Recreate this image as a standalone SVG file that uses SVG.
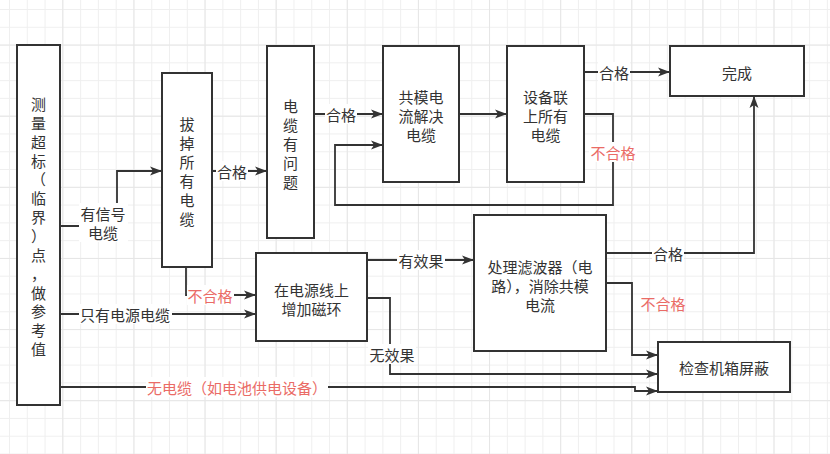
<svg xmlns="http://www.w3.org/2000/svg" width="830" height="454" viewBox="0 0 830 454">
<defs>
<pattern id="gmin" x="9" y="9" width="17.78" height="17.78" patternUnits="userSpaceOnUse">
<path d="M0,0.5 H17.78 M0.5,0 V17.78" stroke="#efefef" stroke-width="1" fill="none"/>
</pattern>
<pattern id="gmaj" x="62.3" y="44.6" width="71.12" height="71.12" patternUnits="userSpaceOnUse">
<path d="M0,0.5 H71.12 M0.5,0 V71.12" stroke="#e6e6e6" stroke-width="1" fill="none"/>
</pattern>
<marker id="arr" markerUnits="userSpaceOnUse" markerWidth="12" markerHeight="10" refX="12" refY="5" orient="auto">
<path d="M0,0.5 L12,5 L0,9.5 L3,5 Z" fill="#333"/>
</marker>
</defs>
<style>
.box{fill:#fff;stroke:#333;stroke-width:2}
.t{font-family:"Noto Sans CJK SC","Noto Sans",sans-serif;font-size:15px;fill:#333;text-anchor:middle;dominant-baseline:central}
.red{fill:#ea6b66}
.e{fill:none;stroke:#333;stroke-width:1.8;marker-end:url(#arr)}
.lb{fill:#fff}
</style>
<rect width="830" height="454" fill="#fff"/>
<rect width="830" height="454" fill="url(#gmin)"/>
<rect width="830" height="454" fill="url(#gmaj)"/>

<g id="connectors">
<path class="e" d="M60,226 H117 V171 H162"/>
<path class="e" d="M212,171 H267"/>
<path class="e" d="M186,267 V295 H256"/>
<path class="e" d="M60,314 H256"/>
<path class="e" d="M60,387 H635 V391 H658"/>
<path class="e" d="M314,114 H383"/>
<path class="e" d="M459,114 H507"/>
<path class="e" d="M584,72 H670"/>
<path class="e" d="M584,114 H613 V205 H335 V145 H383"/>
<path class="e" d="M367,260 H474"/>
<path class="e" d="M367,298 H390 V374 H658"/>
<path class="e" d="M606,253 H754 V96"/>
<path class="e" d="M606,283 H632 V355 H658"/>

<rect class="lb" x="79" y="203" width="49" height="39"/>
<text class="t" x="103" y="213">有信号</text>
<text class="t" x="103" y="232">电缆</text>
<rect class="lb" x="216" y="161" width="32" height="20"/>
<text class="t" x="232" y="171">合格</text>
<rect class="lb" x="187" y="285" width="47" height="20"/>
<text class="t red" x="210" y="295">不合格</text>
<rect class="lb" x="79" y="304" width="93" height="20"/>
<text class="t" x="125" y="314">只有电源电缆</text>
<rect class="lb" x="146" y="377" width="182" height="20"/>
<text class="t red" x="237" y="387">无电缆（如电池供电设备）</text>
<rect class="lb" x="325" y="104" width="32" height="20"/>
<text class="t" x="341" y="114">合格</text>
<rect class="lb" x="598" y="62" width="32" height="20"/>
<text class="t" x="614" y="72">合格</text>
<rect class="lb" x="589" y="142" width="48" height="20"/>
<text class="t red" x="613" y="152">不合格</text>
<rect class="lb" x="397" y="250" width="48" height="20"/>
<text class="t" x="421" y="260">有效果</text>
<rect class="lb" x="368" y="344" width="48" height="20"/>
<text class="t" x="392" y="354">无效果</text>
<rect class="lb" x="652" y="243" width="32" height="20"/>
<text class="t" x="668" y="253">合格</text>
<text class="t red" x="663" y="303">不合格</text>
</g>

<g id="n1">
<rect class="box" x="17" y="45" width="43" height="360"/>
<text class="t"><tspan x="38.5" y="103">测</tspan><tspan x="38.5" y="121.9">量</tspan><tspan x="38.5" y="140.7">超</tspan><tspan x="38.5" y="159.6">标</tspan><tspan x="38.5" y="178.4">（</tspan><tspan x="38.5" y="197.3">临</tspan><tspan x="38.5" y="216.1">界</tspan><tspan x="38.5" y="235">）</tspan><tspan x="38.5" y="253.8">点</tspan><tspan x="38.5" y="272.7">，</tspan><tspan x="38.5" y="291.5">做</tspan><tspan x="38.5" y="310.4">参</tspan><tspan x="38.5" y="329.2">考</tspan><tspan x="38.5" y="348">值</tspan></text>
</g>
<g id="n2">
<rect class="box" x="162" y="73" width="50" height="194"/>
<text class="t"><tspan x="187" y="123">拔</tspan><tspan x="187" y="142">掉</tspan><tspan x="187" y="161">所</tspan><tspan x="187" y="180">有</tspan><tspan x="187" y="199">电</tspan><tspan x="187" y="218">缆</tspan></text>
</g>
<g id="n3">
<rect class="box" x="267" y="46" width="47" height="192"/>
<text class="t"><tspan x="290.5" y="105">电</tspan><tspan x="290.5" y="124">缆</tspan><tspan x="290.5" y="143">有</tspan><tspan x="290.5" y="162">问</tspan><tspan x="290.5" y="181">题</tspan></text>
</g>
<g id="n4">
<rect class="box" x="383" y="46" width="76" height="136"/>
<text class="t"><tspan x="421" y="96">共模电</tspan><tspan x="421" y="115">流解决</tspan><tspan x="421" y="134">电缆</tspan></text>
</g>
<g id="n5">
<rect class="box" x="507" y="46" width="77" height="136"/>
<text class="t"><tspan x="545.5" y="96">设备联</tspan><tspan x="545.5" y="115">上所有</tspan><tspan x="545.5" y="134">电缆</tspan></text>
</g>
<g id="n6">
<rect class="box" x="670" y="46" width="134" height="50"/>
<text class="t" x="737" y="72">完成</text>
</g>
<g id="n7">
<rect class="box" x="256" y="253" width="111" height="88"/>
<text class="t"><tspan x="311.5" y="289">在电源线上</tspan><tspan x="311.5" y="308">增加磁环</tspan></text>
</g>
<g id="n8">
<rect class="box" x="474" y="215" width="132" height="136"/>
<text class="t"><tspan x="540" y="266">处理滤波器（电</tspan><tspan x="540" y="285">路），消除共模</tspan><tspan x="540" y="304">电流</tspan></text>
</g>
<g id="n9">
<rect class="box" x="658" y="342" width="132" height="50"/>
<text class="t" x="724" y="367">检查机箱屏蔽</text>
</g>
</svg>
